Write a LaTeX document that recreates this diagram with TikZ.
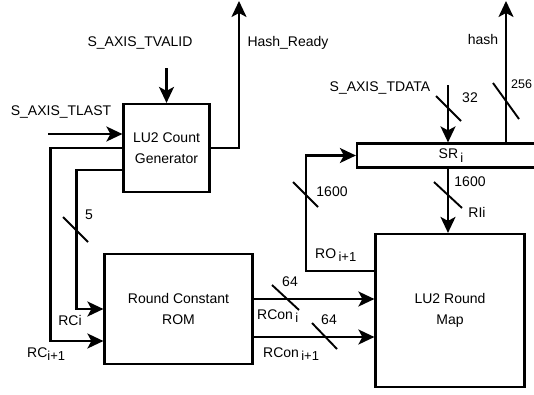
\documentclass[tikz,border=0pt]{standalone}
\usepackage{fontspec}
\setmainfont{Liberation Sans}
\usetikzlibrary{arrows.meta,positioning}
\tikzset{
  blk/.style={draw=black, line width=2.2pt, align=center, inner sep=2pt, font=\fontsize{14}{20.5}\selectfont},
  farr/.style={-{Stealth[length=16pt,width=15pt,inset=4pt]}, line width=2.2pt},
  wire/.style={line width=2.2pt},
  bus/.style={line width=1.9pt},
  lbl/.style={inner sep=0pt, font=\fontsize{14}{17}\selectfont}
}
\newcommand{\lowsub}[1]{\raisebox{-0.5ex}{\fontsize{13}{13}\selectfont #1}}

\begin{document}
\begin{tikzpicture}[x=1pt, y=-1pt]
\useasboundingbox (0,0) rectangle (534,394);
\clip (0,0) rectangle (534,394);
% blocks
\node[blk, minimum width=86pt, minimum height=88pt] (cntgen) at (166.5,148) {LU2 Count\\Generator};
\node[blk, minimum width=148pt, minimum height=110pt] (rom) at (178.5,309) {Round Constant\\ROM};
\node[blk, minimum width=188pt, minimum height=24pt, inner sep=0pt] (sreg) at (451,155.5) {SR\,\lowsub{i}};
\node[blk, minimum width=149pt, minimum height=153pt] (rmap) at (450,310.5) {LU2 Round\\Map};
% free ends
\coordinate (tv) at (166.5,68);
\coordinate (tl) at (48,134);
\coordinate (hr) at (239,1);
\coordinate (td) at (448,85);
\coordinate (hsh) at (506,1);
\coordinate (rc1) at ([yshift=10pt]rom.east);
\coordinate (rc2) at ([yshift=-28pt]rom.east);
% connectors
\draw[farr] (tv) -- (cntgen);
\draw[farr] (tl) -- (tl -| cntgen.west);
\draw[farr] (cntgen.east) -| (hr);
\draw[farr] (cntgen.west) -- ++(-72,0) |- ([yshift=-32pt]rom.west);
\draw[farr] ([yshift=-22pt]cntgen.west) -- ++(-46,0) |- (rom.west);
\draw[farr] (rc1) -- (rc1 -| rmap.west);
\draw[farr] (rc2) -- (rc2 -| rmap.west);
\draw[farr] (td) -- (td |- sreg.north);
\draw[farr] (td |- sreg.south) -- (td |- rmap.north);
\draw[farr] (sreg.north -| hsh) -- (hsh);
\draw[farr] ([yshift=39.5pt]rmap.west) -| (306,180) |- (sreg.west);
% bus widths
\draw[bus] (63,217) -- (88,242);
\draw[bus] (293,182) -- (318,207);
\draw[bus] (434,182) -- (462,208);
\draw[bus] (436,96) -- (461,121);
\draw[bus] (493,83) -- (519,119);
\draw[bus] (272,285) -- (299,310);
\draw[bus] (312,323) -- (337,349);
% labels
\node[lbl] (lvalid) at (140,43) {S\_AXIS\_TVALID};
\node[lbl] (llast) at (61,112) {S\_AXIS\_TLAST};
\node[lbl] (lready) at (288,43) {Hash\_Ready};
\node[lbl] (lhash) at (483,39) {hash};
\node[lbl] (ldata) at (380,88) {S\_AXIS\_TDATA};
\node[lbl] (l5) at (89,215) {5};
\node[lbl] (lrci) at (70,320) {RCi};
\node[lbl, anchor=west] (lrcn) at (27,354) {RC\lowsub{i+1}};
\node[lbl] (lro) at (332,192) {1600};
\node[lbl] (lsr) at (470,182) {1600};
\node[lbl] (lri) at (477,212) {RIi};
\node[lbl, anchor=west] (lron) at (315,255) {RO\,\lowsub{i+1}};
\node[lbl] (l32) at (470,98) {32};
\node[lbl, anchor=west, font=\fontsize{12.5}{15}\selectfont] (l256) at (511,84) {256};
\node[lbl] (l64a) at (290,282) {64};
\node[lbl] (l64b) at (329,320) {64};
\node[lbl, anchor=west] (lrcon) at (257,316) {RCon\,\lowsub{i}};
\node[lbl, anchor=west] (lrconn) at (263,354) {RCon\,\lowsub{i+1}};
\end{tikzpicture}
\end{document}
